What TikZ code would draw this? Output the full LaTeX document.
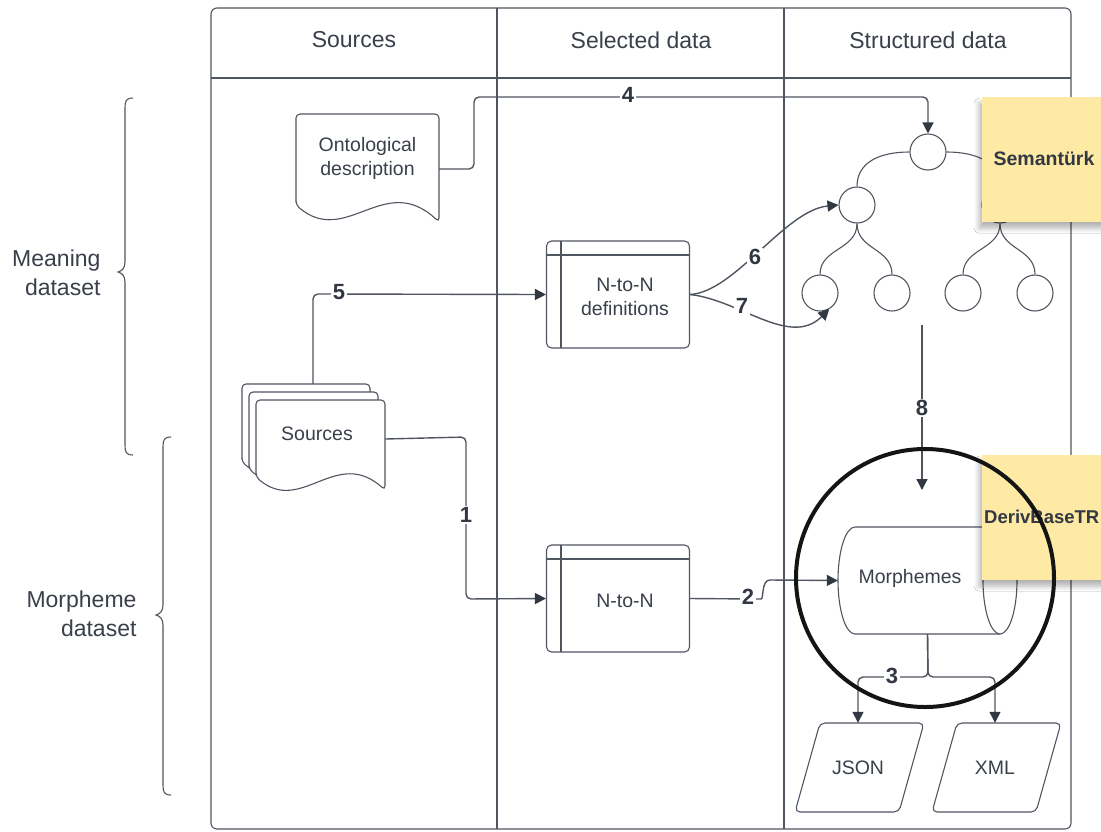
\documentclass[tikz,border=0pt]{standalone}
\usepackage{fontspec}
\setmainfont{Liberation Sans}
\usetikzlibrary{arrows.meta,shadows.blur}

\definecolor{linec}{RGB}{80,86,96}
\definecolor{inkc}{RGB}{50,56,66}
\definecolor{txtc}{RGB}{58,64,74}
\definecolor{notec}{RGB}{254,234,165}

% document outline: #1,#2 top-left corner, #3 width, #4 left height, #5 right height
\newcommand\docoutline[5]{%
  \draw[thinline, fill=white, rounded corners=4pt]
    (#1,#2+#4) -- (#1,#2) -- (#1+#3,#2) -- (#1+#3,#2+#5)
    .. controls ({#1+0.62*#3},{#2+#4-0.24*#3}) and ({#1+0.35*#3},{#2+#4+0.30*#3}) ..
    (#1,#2+#4) -- cycle;}

\tikzset{
  x=1pt, y=-1pt,
  every node/.style={text=txtc, font=\fontsize{19.5}{24}\selectfont},
  thinline/.style={draw=linec, line width=1.1pt},
  conn/.style={draw=linec, line width=1.4pt, rounded corners=5pt},
  arr/.style={conn, -{Triangle[length=11pt,width=11pt,color=inkc,fill=inkc]}},
  num/.style={font=\bfseries\fontsize{22}{26}\selectfont, text=inkc, fill=white, inner sep=1.5pt},
  hdr/.style={font=\fontsize{23}{28}\selectfont},
  side/.style={font=\fontsize{23}{29}\selectfont, align=right, anchor=east},
  frame/.style={minimum width=143pt, minimum height=107pt, inner sep=0pt},
  treenode/.style={circle, draw=linec, line width=1.1pt, minimum size=36pt, inner sep=0pt, fill=white},
  stickynote/.style={fill=notec, anchor=north west, minimum width=150pt, minimum height=125pt, inner sep=0pt,
    blur shadow={shadow xshift=-3pt, shadow yshift=-6pt, shadow blur radius=5pt, shadow blur steps=8, shadow opacity=30}},
  notetxt/.style={font=\bfseries\fontsize{19.5}{24}\selectfont, text=inkc},
}

\begin{document}
\begin{tikzpicture}
\fill[white] (0,0) rectangle (1101,831);
\useasboundingbox (0,0) rectangle (1101,831);

% swimlane table
\draw[thinline, rounded corners=6pt] (211,8) rectangle (1071,829);
\draw[thinline] (211,78) -- (1071,78);
\draw[thinline] (497,8) -- (497,829);
\draw[thinline] (784,8) -- (784,829);
\node[hdr] (hSrc) at (354,40) {Sources};
\node[hdr] (hSel) at (641,40) {Selected data};
\node[hdr] (hStr) at (928,40) {Structured data};

% braces and dataset labels
\draw[thinline] (133,98) .. controls (126,98) and (125,101) .. (125,108) -- (125,262)
  .. controls (125,268) and (122,271) .. (118,272) .. controls (122,273) and (125,276) .. (125,282)
  -- (125,445) .. controls (125,452) and (126,455) .. (133,455);
\draw[thinline] (171,437) .. controls (164,437) and (163,440) .. (163,447) -- (163,605)
  .. controls (163,611) and (160,614) .. (156,615) .. controls (160,616) and (163,619) .. (163,625)
  -- (163,785) .. controls (163,792) and (164,795) .. (171,795);
\node[side] (lblMean) at (104,273) {Meaning\\dataset};
\node[side] (lblMorph) at (140,614) {Morpheme\\dataset};

% ontological description document
\docoutline{296}{114}{143}{91}{108}
\node[align=center, minimum width=143pt, minimum height=110pt, inner sep=0pt] (ont) at (367.5,158) {Ontological\\description};

% stacked source documents
\docoutline{242}{384}{128}{78}{88}
\docoutline{249}{392}{129}{77}{89}
\docoutline{256}{400}{129}{77}{90}
\node[minimum width=128pt, minimum height=78pt, inner sep=0pt] (srcBack) at (306,423) {};
\node[minimum width=129pt, minimum height=68pt, inner sep=0pt] (src) at (320.5,436) {};
\node (srcTxt) at (317,434) {Sources};

% selected data tables
\node[frame, draw=linec, line width=1.1pt, rounded corners=5pt] (ntnd) at (618,294.5) {};
\draw[thinline] (547,255) -- (690,255);
\draw[thinline] (561,241) -- (561,348);
\node[align=center] (ntndTxt) at (625,297) {N-to-N\\definitions};

\node[frame, draw=linec, line width=1.1pt, rounded corners=5pt] (ntn) at (618,598.5) {};
\draw[thinline] (547,559) -- (690,559);
\draw[thinline] (561,545) -- (561,652);
\node (ntnTxt) at (625,601) {N-to-N};

% semantic tree
\node[treenode] (root) at (928,152) {};
\node[treenode] (l2a) at (857,205) {};
\node[treenode] (l2b) at (1000,205) {};
\node[treenode] (lfa) at (820,293) {};
\node[treenode] (lfb) at (892,293) {};
\node[treenode] (lfc) at (963,293) {};
\node[treenode] (lfd) at (1035,293) {};
\draw[thinline] (root.west) .. controls (880,152) and (857,162) .. (l2a.north);
\draw[thinline] (root.east) .. controls (976,152) and (1000,162) .. (l2b.north);
\draw[thinline] (l2a.south) .. controls (857,250) and (820,248) .. (lfa.north);
\draw[thinline] (l2a.south) .. controls (857,250) and (892,248) .. (lfb.north);
\draw[thinline] (l2b.south) .. controls (1000,250) and (963,248) .. (lfc.north);
\draw[thinline] (l2b.south) .. controls (1000,250) and (1035,248) .. (lfd.north);

% morphemes store
\node[minimum width=179pt, minimum height=107pt, inner sep=0pt] (morph) at (927.5,580.5) {};
\draw[thinline, fill=white] (1000,527) -- (855,527) arc[start angle=90, end angle=270, x radius=17pt, y radius=53.5pt] -- (1000,634);
\draw[thinline, fill=white] (1000,580.5) ellipse [x radius=17pt, y radius=53.5pt];
\node (morphTxt) at (910,578) {Morphemes};

% output formats
\draw[thinline, rounded corners=5pt] (820,723) -- (924,723) -- (899,812) -- (795,812) -- cycle;
\draw[thinline, rounded corners=5pt] (957,723) -- (1061,723) -- (1036,812) -- (932,812) -- cycle;
\node[minimum width=104pt, minimum height=89pt, inner sep=0pt] (jsn) at (858,767.5) {JSON};
\node[minimum width=104pt, minimum height=89pt, inner sep=0pt] (xml) at (995,767.5) {XML};

% connectors
\coordinate (treeOut) at (922,325);
\coordinate (storeIn) at (922,490);
\draw[arr] ([yshift=-11pt]ont.east) -- (474,169) -- (474,97) -- (928,97) -- (root.north);
\node[num] (n4) at (628,95) {4};
\draw[arr] ([xshift=7pt]srcBack.north) -- (313,294) -- (ntnd.west);
\node[num] (n5) at (339,292) {5};
\draw[arr] ([yshift=-3pt]src.east) -- (466,437) -- (466,599) -- (ntn.west);
\node[num] (n1) at (466,515) {1};
\draw[arr] (ntnd.east) .. controls (735,292) and (785,210) .. (l2a.west);
\node[num] (n6) at (755,257) {6};
\draw[arr] (ntnd.east) .. controls (740,300) and (790,348) .. (lfa.-60);
\node[num] (n7) at (742,306) {7};
\draw[arr] (treeOut) -- (storeIn);
\node[num] (n8) at (922,408) {8};
\draw[conn] (ntn.east) -- (756,599) .. controls (764,599) and (761,580) .. (770,580);
\draw[arr] (770,580) -- (morph.west);
\node[num] (n2) at (748,597) {2};
\draw[arr] (morph.south) -- (928,677) -| (jsn.north);
\draw[arr] (morph.south) -- (928,677) -| (xml.north);
\node[num] (n3) at (892,676) {3};

% sticky notes
\node[stickynote] (semNote) at (982,97) {};
\node[notetxt] (semTxt) at (1044,159) {Semantürk};
\node[stickynote] (dbNote) at (982,455) {};
\node[notetxt, font=\bfseries\fontsize{18.5}{24}\selectfont, anchor=west, inner sep=0pt] (dbTxt) at (984,517) {DerivBaseTR};

% highlight ring
\node[circle, draw=black!92, line width=4pt, minimum size=258pt, inner sep=0pt] (focus) at (925,578) {};
\end{tikzpicture}
\end{document}
